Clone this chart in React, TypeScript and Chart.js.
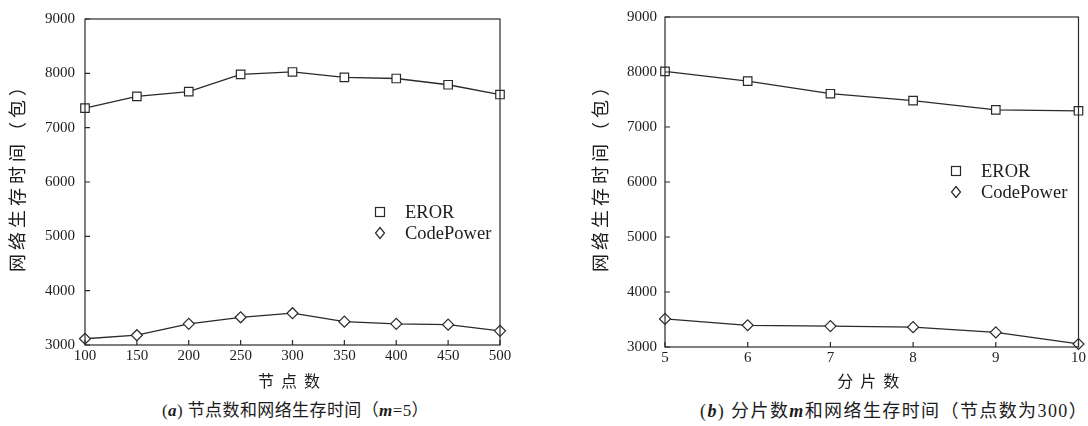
import React, { useEffect, useRef } from 'react';
import { Chart, registerables } from 'chart.js';

Chart.register(...registerables);

// ---- data ----
const nodeCounts = [100, 150, 200, 250, 300, 350, 400, 450, 500];
const erorByNodes = [7360, 7575, 7665, 7980, 8025, 7925, 7905, 7790, 7610];
const codePowerByNodes = [3115, 3180, 3390, 3510, 3585, 3430, 3390, 3375, 3260];

const shardCounts = [5, 6, 7, 8, 9, 10];
const erorByShards = [8010, 7835, 7605, 7480, 7310, 7295];
const codePowerByShards = [3510, 3395, 3380, 3360, 3265, 3055];

const seriesNames = ['EROR', 'CodePower'];
const yTitle = '网络生存时间（包）';
const xTitleA = '节点数';
const xTitleB = '分片数';

const FONT = '"Liberation Serif", "Noto Sans CJK SC", serif';
const INK = '#1c1c1c';
const LINE = '#2a2a2a';

const titleSpacingPlugin = {
  id: 'titleSpacing',
  afterLayout(chart: any) {
    const spacing: Record<string, string> = { x: '7px', y: '4px' };
    const shift: Record<string, number> = { x: 0, y: -9 };
    for (const id of ['x', 'y']) {
      const s: any = chart.scales[id];
      if (!s || s.__patched) continue;
      const orig = s.drawTitle;
      s.drawTitle = function (...args: any[]) {
        const ctx = this.ctx;
        ctx.save();
        try { (ctx as any).letterSpacing = spacing[id]; } catch (e) { /* ignore */ }
        ctx.translate(0, shift[id]);
        orig.apply(this, args);
        ctx.restore();
      };
      s.__patched = true;
    }
  },
};

const framePlugin = {
  id: 'frame',
  afterDraw(chart: any) {
    const { ctx, chartArea } = chart;
    const { left, right, top, bottom } = chartArea;
    const x = chart.scales.x;
    const y = chart.scales.y;
    ctx.save();
    ctx.strokeStyle = LINE;
    ctx.lineWidth = 1.2;
    ctx.strokeRect(left, top, right - left, bottom - top);
    ctx.beginPath();
    x.ticks.forEach((t: any) => {
      const px = x.getPixelForValue(t.value);
      ctx.moveTo(px, bottom);
      ctx.lineTo(px, bottom - 5);
    });
    y.ticks.forEach((t: any) => {
      const py = y.getPixelForValue(t.value);
      ctx.moveTo(left, py);
      ctx.lineTo(left + 5, py);
    });
    ctx.stroke();
    ctx.restore();
  },
};

type PanelProps = {
  xs: number[];
  a: number[];
  b: number[];
  xMin: number;
  xMax: number;
  xStep: number;
  xTitle: string;
  width: number;
  height: number;
  padTop: number;
  padRight: number;
  yAxisWidth: number;
  xAxisHeight: number;
  yTitlePad: number;
  yTickPad: number;
};

function Panel(p: PanelProps) {
  const ref = useRef<HTMLCanvasElement | null>(null);
  useEffect(() => {
    if (!ref.current) return;
    const common = {
      borderColor: LINE,
      borderWidth: 1.3,
      pointBorderColor: LINE,
      pointBackgroundColor: '#fff',
      pointBorderWidth: 1.2,
      tension: 0,
      clip: false as any,
    };
    const chart = new Chart(ref.current, {
      type: 'line',
      data: {
        datasets: [
          {
            ...common,
            label: seriesNames[0],
            data: p.xs.map((x, i) => ({ x, y: p.a[i] })),
            pointStyle: 'rect',
            pointRadius: 6,
          },
          {
            ...common,
            label: seriesNames[1],
            data: p.xs.map((x, i) => ({ x, y: p.b[i] })),
            pointStyle: 'rectRot',
            pointRadius: 5.5,
          },
        ],
      },
      options: {
        responsive: false,
        animation: false,
        devicePixelRatio: 1,
        layout: { padding: { top: p.padTop, right: p.padRight, left: 0, bottom: 0 } },
        plugins: {
          legend: { display: false },
          tooltip: { enabled: false },
        },
        scales: {
          x: {
            type: 'linear',
            min: p.xMin,
            max: p.xMax,
            ticks: {
              stepSize: p.xStep,
              color: INK,
              font: { family: FONT, size: 15 },
              padding: 2,
              maxRotation: 0,
              callback: (v: any) => String(v),
            },
            grid: { display: false, drawTicks: false },
            border: { display: false },
            title: {
              display: true,
              text: p.xTitle,
              color: INK,
              font: { family: FONT, size: 16 },
              padding: { top: 0, bottom: 0 },
            },
            afterFit: (s: any) => { s.height = p.xAxisHeight; },
          },
          y: {
            type: 'linear',
            min: 3000,
            max: 9000,
            ticks: {
              stepSize: 1000,
              color: INK,
              font: { family: FONT, size: 15 },
              padding: p.yTickPad,
              callback: (v: any) => String(v),
            },
            grid: { display: false, drawTicks: false },
            border: { display: false },
            title: {
              display: true,
              text: yTitle,
              color: INK,
              font: { family: FONT, size: 18 },
              padding: { top: p.yTitlePad, bottom: 0 },
            },
            afterFit: (s: any) => { s.width = p.yAxisWidth; },
          },
        },
      },
      plugins: [titleSpacingPlugin, framePlugin],
    });
    return () => chart.destroy();
  }, []);
  return <canvas ref={ref} width={p.width} height={p.height} style={{ display: 'block' }} />;
}

function Marker({ kind }: { kind: 'rect' | 'diamond' }) {
  return (
    <svg width={14} height={14} style={{ display: 'block' }}>
      {kind === 'rect' ? (
        <rect x={2.5} y={2.5} width={9} height={9} fill="#fff" stroke={LINE} strokeWidth={1.2} />
      ) : (
        <polygon points="7,1.5 11.5,7 7,12.5 2.5,7" fill="#fff" stroke={LINE} strokeWidth={1.2} />
      )}
    </svg>
  );
}

function Legend({ left, top }: { left: number; top: number }) {
  const row = (kind: 'rect' | 'diamond', label: string, y: number) => (
    <div style={{ position: 'absolute', left: 0, top: y, height: 22, display: 'flex', alignItems: 'center' }}>
      <div style={{ width: 32 }}><Marker kind={kind} /></div>
      <span style={{ fontFamily: FONT, fontSize: 18.5, color: INK, whiteSpace: 'nowrap', lineHeight: '22px' }}>{label}</span>
    </div>
  );
  return (
    <div style={{ position: 'absolute', left, top, width: 140, height: 46 }}>
      {row('rect', seriesNames[0], 0)}
      {row('diamond', seriesNames[1], 21)}
    </div>
  );
}

const captionStyle: React.CSSProperties = {
  position: 'absolute',
  fontFamily: FONT,
  color: INK,
  whiteSpace: 'nowrap',
  lineHeight: '22px',
};

export default function App() {
  return (
    <div style={{ position: 'absolute', left: 0, top: 0, width: 1088, height: 426, background: '#fff', overflow: 'hidden' }}>
      <div style={{ position: 'absolute', left: 0, top: 0 }}>
        <Panel
          xs={nodeCounts}
          a={erorByNodes}
          b={codePowerByNodes}
          xMin={100}
          xMax={500}
          xStep={50}
          xTitle={xTitleA}
          width={540}
          height={392}
          padTop={13}
          padRight={40}
          yAxisWidth={85}
          xAxisHeight={47}
          yTitlePad={8}
          yTickPad={10}
        />
      </div>
      <div style={{ position: 'absolute', left: 580, top: 0 }}>
        <Panel
          xs={shardCounts}
          a={erorByShards}
          b={codePowerByShards}
          xMin={5}
          xMax={10}
          xStep={1}
          xTitle={xTitleB}
          width={508}
          height={392}
          padTop={14}
          padRight={9}
          yAxisWidth={85}
          xAxisHeight={45}
          yTitlePad={11}
          yTickPad={8}
        />
      </div>
      <Legend left={373} top={201} />
      <Legend left={949} top={160} />
      <div style={{ ...captionStyle, left: 162, top: 400, fontSize: 17, letterSpacing: '0.4px' }}>
        (<b><i>a</i></b>) 节点数和网络生存时间（<b><i>m</i></b>=5）
      </div>
      <div style={{ ...captionStyle, left: 700, top: 400, fontSize: 18, letterSpacing: '1.4px' }}>
        (<b><i>b</i></b>) 分片数<b><i>m</i></b>和网络生存时间（节点数为300）
      </div>
    </div>
  );
}
